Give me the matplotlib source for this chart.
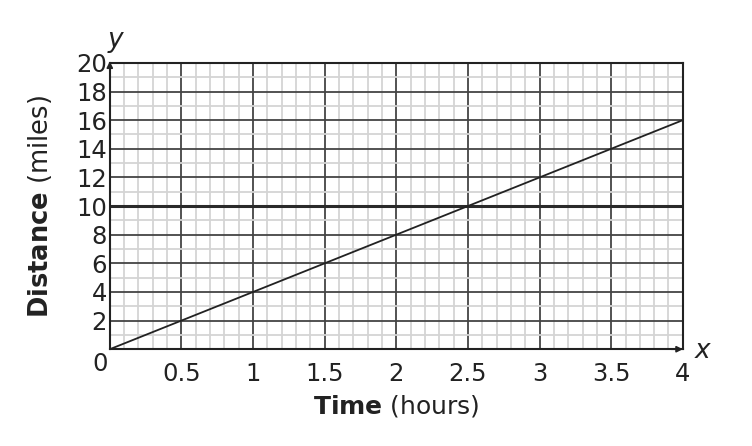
import numpy as np
import matplotlib.pyplot as plt
from matplotlib.ticker import MultipleLocator

# data
time_hours = [0, 4]
distance_miles = [0, 16]
x_ticks = [0.5, 1, 1.5, 2, 2.5, 3, 3.5, 4]
x_tick_labels = ["0.5", "1", "1.5", "2", "2.5", "3", "3.5", "4"]
y_ticks = [2, 4, 6, 8, 10, 12, 14, 16, 18, 20]

plt.rcParams['font.family'] = 'DejaVu Sans'
plt.rcParams['mathtext.fontset'] = 'dejavusans'

fig = plt.figure(figsize=(7.52, 4.46), dpi=100)
ax = fig.add_axes([0.146, 0.217, 0.762, 0.642])

ax.set_xlim(0, 4)
ax.set_ylim(0, 20)

# grid
ax.xaxis.set_minor_locator(MultipleLocator(0.1))
ax.yaxis.set_minor_locator(MultipleLocator(1))
ax.set_xticks(x_ticks)
ax.set_xticklabels(x_tick_labels)
ax.set_yticks(y_ticks)
ax.grid(which='minor', color='#d4d4d4', linewidth=1.3, zorder=0)
ax.grid(which='major', color='#444444', linewidth=1.3, zorder=1)
ax.axhline(10, color='#2a2a2a', linewidth=2.2, zorder=1)
ax.set_axisbelow(True)

ax.tick_params(which='both', length=0, labelsize=17.5, colors='#222222')
ax.tick_params(axis='x', pad=9)
ax.tick_params(axis='y', pad=2)

for s in ax.spines.values():
    s.set_color('#222222')
    s.set_linewidth(1.5)

ax.plot(time_hours, distance_miles, color='#222222', linewidth=1.3, zorder=3)

# axis arrows
ax.annotate('', xy=(4.02, 0), xytext=(3.9, 0), xycoords='data',
            arrowprops=dict(arrowstyle='-|>', color='#222222', lw=1.2,
                            mutation_scale=9), annotation_clip=False)
ax.annotate('', xy=(0, 20.3), xytext=(0, 19.5), xycoords='data',
            arrowprops=dict(arrowstyle='-|>', color='#222222', lw=1.2,
                            mutation_scale=9), annotation_clip=False)

ax.text(-0.07, -1.0, "0", fontsize=17.5, ha='center', va='center', color='#222222')
ax.text(4.14, -0.1, "x", fontsize=19, style='italic', ha='center', va='center', color='#222222')
ax.text(0.04, 21.6, "y", fontsize=19, style='italic', ha='center', va='center', color='#222222')

ax.set_xlabel(r"$\bf{Time}$ (hours)", fontsize=18, color='#222222', labelpad=5)
ax.set_ylabel(r"$\bf{Distance}$ (miles)", fontsize=18.5, color='#222222', labelpad=16)

fig.savefig("out.png", dpi=100)
